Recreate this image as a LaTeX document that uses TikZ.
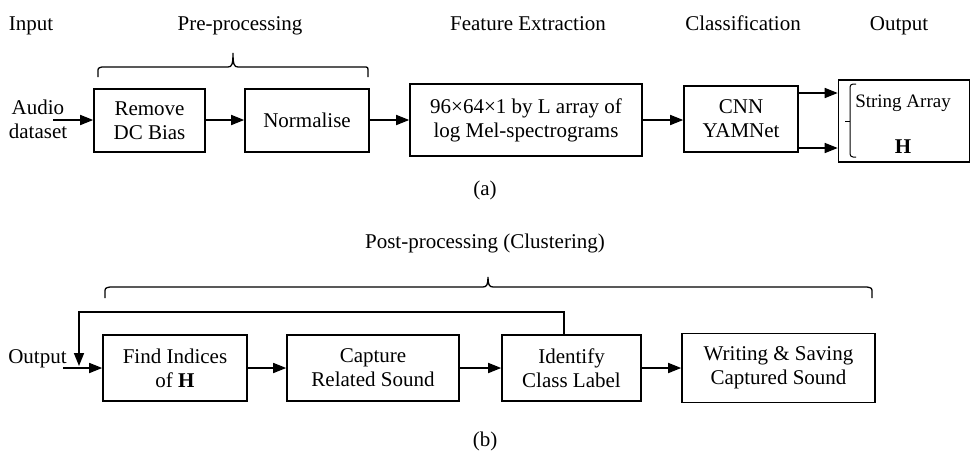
\documentclass[tikz,border=0pt]{standalone}
\usepackage{fontspec}
\setmainfont{Liberation Serif}
\usetikzlibrary{arrows.meta}
\begin{document}
\begin{tikzpicture}[x=1pt,y=-1pt,
  every node/.style={font=\fontsize{21}{24}\selectfont, inner sep=0pt, align=center},
  box/.style={draw, line width=1.6pt},
  arr/.style={line width=1.6pt, -{Triangle[length=13pt,width=10pt]}},
  brace/.style={line width=1.3pt},
  lbl/.style={anchor=base}]
\useasboundingbox (0,0) rectangle (971,450);
% headings
\node[lbl] (hin) at (31,30) {Input};
\node[lbl] (hpre) at (240,30) {Pre-processing};
\node[lbl] (hfeat) at (528,30) {Feature Extraction};
\node[lbl] (hcls) at (743,30) {Classification};
\node[lbl] (hout) at (899,30) {Output};
% top brace
\draw[brace] (98,77) -- (98,72) .. controls (98,68) .. (102,67) -- (228,67)
  .. controls (232,67) and (233,64) .. (233,53)
  .. controls (233,64) and (234,67) .. (238,67) -- (364,67)
  .. controls (368,67) .. (368,72) -- (368,77);
% top row
\node (audio) at (38,119) {Audio\\dataset};
\coordinate (ain) at (53,120);
\node[box, minimum width=111pt, minimum height=63pt] (dc) at (149.5,120.5) {Remove\\DC Bias};
\node[box, minimum width=124pt, minimum height=63pt] (norm) at (307,120.5) {Normalise};
\node[box, minimum width=232pt, minimum height=72pt] (feat) at (526,120) {96×64×1 by L array of\\log Mel-spectrograms};
\node[box, minimum width=114pt, minimum height=66pt] (cnn) at (741,119) {CNN\\YAMNet};
\node[box, minimum width=131pt, minimum height=82pt] (out) at (904,121) {};
\draw[arr] (ain) -- (dc.west |- ain);
\draw[arr] (dc.east |- ain) -- (norm.west |- ain);
\draw[arr] (norm.east |- ain) -- (feat.west |- ain);
\draw[arr] (feat.east |- ain) -- (cnn.west |- ain);
\coordinate (ya) at (0,93);
\coordinate (yb) at (0,148);
\draw[arr] (cnn.east |- ya) -- (out.west |- ya);
\draw[arr] (cnn.east |- yb) -- (out.west |- yb);
% inner bracket of output
\draw[line width=1pt, rounded corners=3pt] (856,84) -- (850,84) -- (850,157) -- (856,157);
\draw[line width=1pt] (850,121) -- (845,121);
\node[lbl, font=\fontsize{19}{22}\selectfont] (sarr) at (903,107) {String Array};
\node[lbl] (hh) at (903,153) {\textbf{H}};
\node[lbl] (capa) at (485,195) {(a)};
% bottom
\node[lbl] (hpost) at (485,248) {Post-processing (Clustering)};
\draw[brace] (105,298) -- (105,293) .. controls (105,288) .. (110,287) -- (483,287)
  .. controls (487,287) and (488,284) .. (488,277)
  .. controls (488,284) and (489,287) .. (493,287) -- (867,287)
  .. controls (872,288) .. (872,293) -- (872,298);
\node[lbl] (outlbl) at (37.5,363) {Output};
\coordinate (oin) at (63,368);
\node[box, minimum width=144pt, minimum height=66pt] (find) at (175,368) {Find Indices\\of \textbf{H}};
\node[box, minimum width=172pt, minimum height=66pt] (cap) at (373,368) {Capture\\Related Sound};
\node[box, minimum width=139pt, minimum height=66pt] (ident) at (571.5,368) {Identify\\Class Label};
\node[box, minimum width=193pt, minimum height=69pt] (write) at (778.5,368) {Writing \& Saving\\Captured Sound};
\draw[arr] (oin) -- (find.west);
\draw[arr] (find) -- (cap);
\draw[arr] (cap) -- (ident);
\draw[arr] (ident) -- (write);
\coordinate (fb1) at (564,312);
\coordinate (fb2) at (79,312);
\coordinate (fb3) at (79,366);
\draw[arr] (ident.north -| fb1) -- (fb1) -- (fb2) -- (fb3);
\node[lbl] (capb) at (485,446) {(b)};
\end{tikzpicture}
\end{document}
